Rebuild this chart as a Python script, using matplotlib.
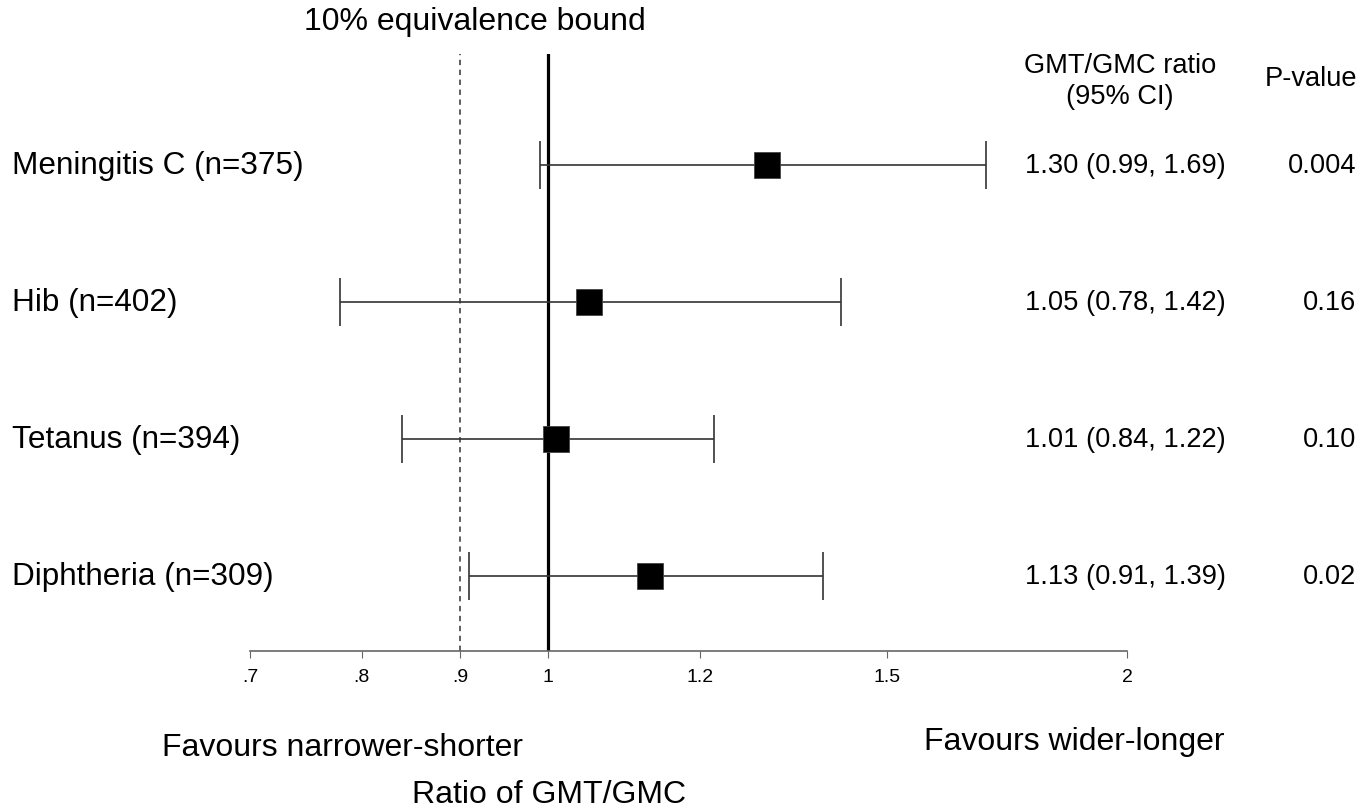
import numpy as np
import matplotlib.pyplot as plt
from matplotlib.transforms import blended_transform_factory

plt.rcParams['font.family'] = ['Liberation Sans', 'DejaVu Sans']
plt.rcParams['xtick.labelsize'] = 14
plt.rcParams['xtick.major.pad'] = 7
plt.rcParams['xtick.major.size'] = 5
plt.rcParams['xtick.color'] = '#666666'
plt.rcParams['xtick.labelcolor'] = 'black'

# data, top row first
labels = ['Meningitis C (n=375)', 'Hib (n=402)', 'Tetanus (n=394)', 'Diphtheria (n=309)']
ratio = [1.30, 1.05, 1.01, 1.13]
ci_low = [0.99, 0.78, 0.84, 0.91]
ci_high = [1.69, 1.42, 1.22, 1.39]
ci_text = ['1.30 (0.99, 1.69)', '1.05 (0.78, 1.42)', '1.01 (0.84, 1.22)', '1.13 (0.91, 1.39)']
p_text = ['0.004', '0.16', '0.10', '0.02']
tick_vals = [0.7, 0.8, 0.9, 1, 1.2, 1.5, 2]
tick_labels = ['.7', '.8', '.9', '1', '1.2', '1.5', '2']

W, H = 1370, 812
fig = plt.figure(figsize=(W / 100, H / 100), dpi=100)
# axes placed in pixel terms: x 250..1127, y 55..652 (from top)
ax = fig.add_axes([250 / W, 1 - 652 / H, (1127 - 250) / W, (652 - 55) / H])
ax.set_xscale('log')
ax.set_xlim(0.7, 2)
ax.set_ylim(-0.55, 3.81)

ypos = np.arange(len(labels))[::-1]  # 3,2,1,0

ax.axvline(0.9, color='#333333', lw=1.1, ls=(0, (3.5, 3)), zorder=1)
ax.axvline(1.0, color='black', lw=2.3, zorder=2)

ratio_a = np.array(ratio)
xerr = [ratio_a - np.array(ci_low), np.array(ci_high) - ratio_a]
ax.errorbar(ratio, ypos, xerr=xerr, fmt='none', ecolor='#333333',
            elinewidth=1.2, capsize=17, capthick=1.2, zorder=3)
ax.plot(ratio, ypos, 's', color='black', markersize=19,
        markeredgecolor='#444444', markeredgewidth=0.6, zorder=4)

ax.set_xticks(tick_vals, tick_labels)
ax.xaxis.set_minor_locator(plt.NullLocator())
ax.set_yticks([])
for s in ['left', 'top', 'right']:
    ax.spines[s].set_visible(False)
ax.spines['bottom'].set_color('#666666')
ax.spines['bottom'].set_linewidth(1.2)
ax.tick_params(axis='x', labelsize=14)

tr = blended_transform_factory(fig.transFigure, ax.transData)
for i, y in enumerate(ypos):
    ax.text(12 / W, y, labels[i], transform=tr, fontsize=22.7,
            ha='left', va='center')
    ax.text(1025 / W, y, ci_text[i], transform=tr, fontsize=19.6,
            ha='left', va='center')
    ax.text(1356 / W, y, p_text[i], transform=tr, fontsize=19.6,
            ha='right', va='center')

def fx(x):
    return x / W

def fy(y):
    return 1 - y / H

fig.text(fx(475), fy(22), '10% equivalence bound', fontsize=23,
         ha='center', va='center')
fig.text(fx(1120), fy(66), 'GMT/GMC ratio', fontsize=19.6, ha='center', va='center')
fig.text(fx(1120), fy(97), '(95% CI)', fontsize=19.6, ha='center', va='center')
fig.text(fx(1311), fy(79), 'P-value', fontsize=19.6, ha='center', va='center')
fig.text(fx(343), fy(748), 'Favours narrower-shorter', fontsize=23,
         ha='center', va='center')
fig.text(fx(1074), fy(742), 'Favours wider-longer', fontsize=23,
         ha='center', va='center')
fig.text(fx(549), fy(795), 'Ratio of GMT/GMC', fontsize=23,
         ha='center', va='center')

fig.savefig('out.png', dpi=100, facecolor='white')
